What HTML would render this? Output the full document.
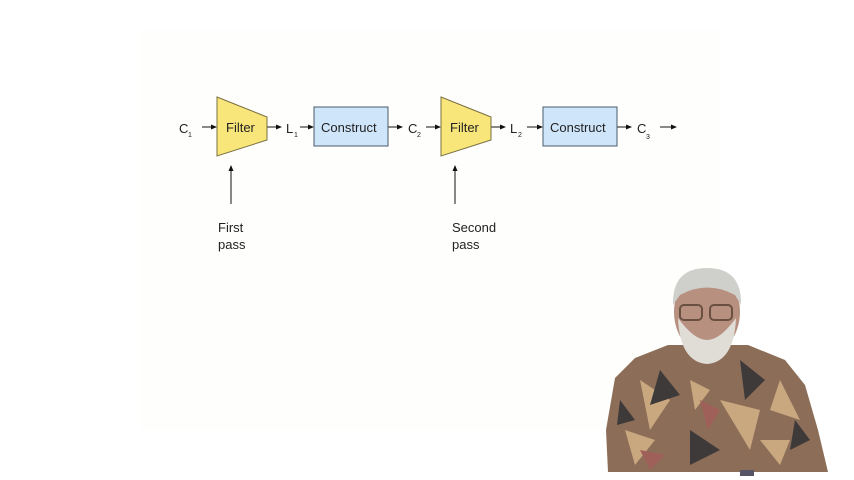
<!DOCTYPE html>
<html><head><meta charset="utf-8"><style>
html,body{margin:0;padding:0;background:#fff;width:854px;height:480px;overflow:hidden}
svg{display:block}
text{font-family:"Liberation Sans",sans-serif;fill:#222}
</style></head><body>
<svg width="854" height="480" viewBox="0 0 854 480">
<defs><marker id="a" markerWidth="6" markerHeight="6" refX="5" refY="3" orient="auto"><path d="M0,0.5 L6,3 L0,5.5z" fill="#111"/></marker></defs>
<rect x="140" y="30" width="580" height="400" fill="#fefefd"/>
<g stroke="#111" stroke-width="1" marker-end="url(#a)">
<line x1="202" y1="127" x2="216" y2="127"/>
<line x1="267" y1="127" x2="281" y2="127"/>
<line x1="300" y1="127" x2="313" y2="127"/>
<line x1="388" y1="127" x2="402" y2="127"/>
<line x1="426" y1="127" x2="440" y2="127"/>
<line x1="491" y1="127" x2="505" y2="127"/>
<line x1="527" y1="127" x2="542" y2="127"/>
<line x1="617" y1="127" x2="631" y2="127"/>
<line x1="660" y1="127" x2="676" y2="127"/>
<line x1="231" y1="204" x2="231" y2="166"/>
<line x1="455" y1="204" x2="455" y2="166"/>
</g>
<polygon points="217,97 267,117 267,140 217,156" fill="#f8e67a" stroke="#7a7040"/>
<polygon points="441,97 491,117 491,140 441,156" fill="#f8e67a" stroke="#7a7040"/>
<rect x="314" y="107" width="74" height="39" fill="#cfe5fa" stroke="#4a5a6a"/>
<rect x="543" y="107" width="74" height="39" fill="#cfe5fa" stroke="#4a5a6a"/>
<g font-size="13">
<text x="226" y="132">Filter</text>
<text x="450" y="132">Filter</text>
<text x="321" y="132">Construct</text>
<text x="550" y="132">Construct</text>
<text x="179" y="133">C</text><text x="188" y="137" font-size="7">1</text>
<text x="286" y="133">L</text><text x="294" y="137" font-size="7">1</text>
<text x="408" y="133">C</text><text x="417" y="137" font-size="7">2</text>
<text x="510" y="133">L</text><text x="518" y="137" font-size="7">2</text>
<text x="637" y="133">C</text><text x="646" y="139" font-size="7">3</text>
<text x="218" y="232">First</text><text x="218" y="249">pass</text>
<text x="452" y="232">Second</text><text x="452" y="249">pass</text>
</g>
<!-- person -->
<path d="M608,472 L606,430 L615,378 L635,358 L668,345 L748,345 L785,360 L805,385 L818,430 L828,472 Z" fill="#8c6d58"/>
<path d="M640,380 l30,20 l-20,30z M720,400 l40,10 l-10,40z M780,380 l20,40 l-30,-10z M625,430 l30,10 l-20,25z M690,380 l20,10 l-15,20z M760,440 l30,0 l-10,25z" fill="#c9a880"/>
<path d="M660,370 l20,25 l-30,10z M740,360 l25,20 l-20,20z M690,430 l30,20 l-30,15z M620,400 l15,20 l-18,5z M795,420 l15,20 l-20,10z" fill="#3e3a3a"/>
<path d="M700,400 l20,10 l-12,20z M640,450 l25,5 l-15,15z" fill="#a0605a"/>
<ellipse cx="707" cy="312" rx="33" ry="42" fill="#b89080"/>
<path d="M673,305 Q672,268 707,268 Q742,268 741,305 L735,295 Q707,280 680,295Z" fill="#cfcfcc"/>
<path d="M678,318 Q680,362 707,364 Q734,362 736,318 Q720,340 707,340 Q694,340 678,318Z" fill="#e0dcd6"/>
<g fill="none" stroke="#6a5040" stroke-width="2"><rect x="680" y="305" width="22" height="15" rx="4"/><rect x="710" y="305" width="22" height="15" rx="4"/></g>
<rect x="740" y="470" width="14" height="6" fill="#556"/>
</svg>
</body></html>
